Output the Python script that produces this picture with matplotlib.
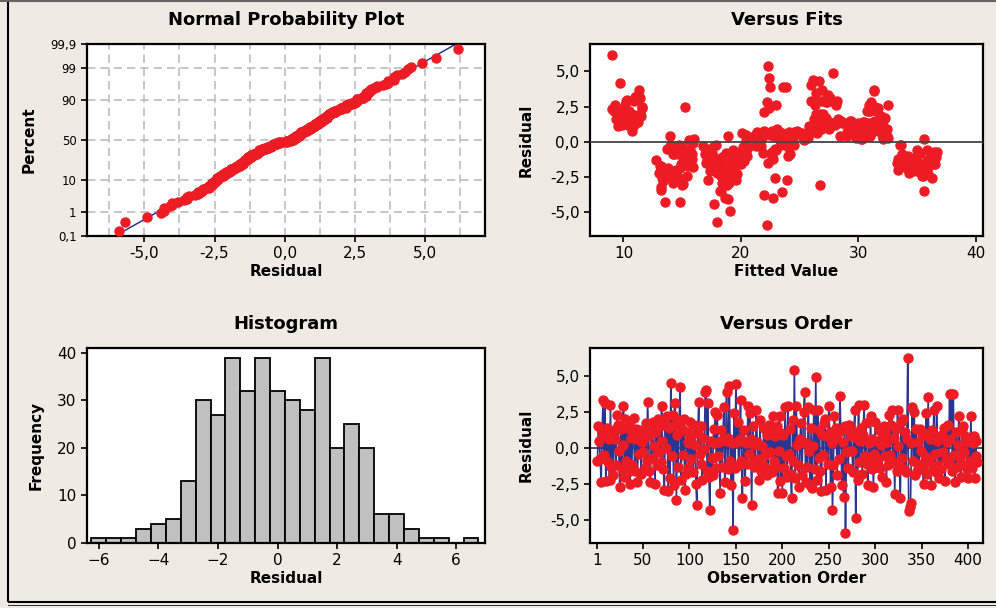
import numpy as np
import matplotlib
matplotlib.use("Agg")
import matplotlib.pyplot as plt
from matplotlib.patches import Rectangle
from statistics import NormalDist

# residuals in observation order
resid = [
    -0.9, 1.5, 0.5, -0.8, -2.4, 1.0, 3.3, -0.5, 3.1, -2.3,
    1.4, -1.0, 0.6, -2.2, 3.0, -1.3, 0.8, -1.9, 1.2, 0.6,
    -1.2, 2.3, 1.6, -0.2, -2.7, 1.3, -1.5, 0.2, 2.9, -2.0,
    2.0, -0.9, 1.4, -1.7, 1.8, -2.5, 0.7, -1.2, 1.1, 2.1,
    -1.6, 0.6, 1.3, -2.4, 0.9, -0.4, 1.2, -1.8, 0.4, -0.3,
    1.0, -1.4, 1.7, -0.9, 3.2, 0.8, -1.6, -2.4, 1.5, -0.7,
    1.8, 0.1, -2.5, 1.1, -1.2, 2.0, -0.3, 1.5, -1.0, 2.9,
    0.5, -1.5, -2.9, 1.7, 0.0, 2.2, -3.0, 1.4, -2.1, 4.5,
    -0.6, 2.3, -2.6, 3.1, 1.6, -3.6, 0.9, -1.3, 1.9, 4.2,
    -2.2, 1.3, -0.5, 2.0, -2.9, -1.8, 1.1, 0.4, -1.4, 0.3,
    1.8, -0.8, 0.9, -1.7, 1.6, 0.2, -2.5, -4.0, 1.0, 3.2,
    -0.4, 1.5, -1.1, -2.2, 0.7, -0.1, 3.9, 4.0, -1.6, 3.1,
    -2.0, -4.3, 0.5, -0.7, -1.9, 1.3, 0.3, 2.5, -1.4, 2.3,
    -0.6, 0.4, -3.1, 1.2, -1.3, 0.6, 2.8, -2.4, 0.5, 3.9,
    -1.5, 0.7, 4.3, -0.9, -2.6, 0.3, -5.7, 2.4, -1.4, 4.4,
    0.4, 1.8, -1.2, 0.6, 3.3, -0.9, -3.5, 0.5, 1.2, -2.3,
    0.3, -1.1, 2.9, -0.4, 2.4, 0.6, -4.0, 1.5, -1.3, 0.2,
    -1.0, 2.6, 0.4, -0.8, -2.2, 1.9, -1.6, 0.1, -1.2, 1.4,
    -0.5, 1.2, -1.9, 0.9, -1.5, 1.6, -0.3, 1.1, -1.7, 2.2,
    -0.9, 0.8, -1.3, 1.5, -3.1, -0.2, 2.2, -2.3, 1.0, -3.1,
    0.9, -1.4, 2.8, -0.6, -2.0, 2.9, -0.4, 1.3, -1.8, -3.5,
    1.9, -0.9, 5.4, -2.1, 2.9, 0.2, -1.2, -2.7, 0.6, 1.7,
    -1.9, 0.4, 2.5, 3.9, -2.4, 0.3, -1.3, 2.8, -0.2, -2.6,
    1.4, -2.8, 0.1, 2.6, -1.5, 4.9, -2.2, 2.6, -0.7, 1.2,
    -1.6, -3.0, 0.9, -0.5, 1.7, 2.0, -2.9, 0.8, -1.1, 2.9,
    1.1, -2.7, 0.3, -4.3, -1.2, 2.2, 0.6, 1.4, -1.9, 1.0,
    -0.8, 3.6, 1.2, -2.6, 0.4, -3.4, 1.5, -5.9, -0.3, 1.3,
    -1.4, 1.6, -0.2, 0.8, -0.2, -1.7, 1.1, 2.6, -4.9, 0.7,
    -2.2, 3.0, -1.0, 0.5, 1.4, -1.8, 0.9, 3.0, -0.6, 1.7,
    -1.1, -2.6, 0.3, -0.9, 2.2, -1.5, 0.6, -2.7, -0.4, 1.8,
    -1.3, 0.5, -0.8, 1.2, -1.4, 0.2, -2.0, 0.9, 1.5, -0.6,
    1.0, -2.4, 0.4, -1.2, 2.3, -0.5, 1.6, 2.6, -1.0, 0.7,
    -3.2, 1.3, -1.6, 2.6, 0.1, -1.3, -3.5, 1.8, -0.7, 2.0,
    -1.5, 1.1, -1.7, 0.6, 6.2, -4.4, -4.1, -3.8, 0.3, 2.8,
    -0.9, 2.5, -1.9, 1.3, -1.6, 0.4, -1.1, 1.3, -0.2, 0.9,
    -1.4, -2.5, 1.0, -0.6, 2.4, -1.8, 3.5, -0.9, 0.6, -2.6,
    1.2, -1.3, 2.6, -0.4, -1.7, 2.9, 0.5, -1.2, -2.1, 0.8,
    -1.5, 0.9, -0.3, 1.4, -2.3, -0.8, 0.4, 1.6, -1.1, 3.7,
    0.6, 3.7, -1.6, 3.7, -0.5, -2.4, 1.1, -1.3, 0.2, 2.2,
    -0.7, -2.0, 1.3, -1.2, 1.5, -0.3, 0.8, 0.4, -1.5, -2.1,
    0.7, -0.9, 2.2, -1.4, 0.3, 0.8, -2.1, 0.5, -0.6, -1.0,
]

# fitted values, same order
fitted = [
    19.4, 10.6, 30.8, 35.2, 14.3, 26.1, 11.2, 22.9, 27.3, 18.6,
    31.6, 15.1, 23.4, 34.3, 10.3, 18.1, 30.2, 13.8, 26.8, 20.1,
    36.1, 31.2, 9.4, 14.7, 19.6, 27.9, 22.3, 32.1, 10.9, 35.5,
    26.4, 17.3, 30.5, 13.2, 11.5, 18.9, 24.1, 34.8, 31.4, 22.0,
    19.1, 29.8, 10.1, 15.4, 26.0, 17.6, 30.9, 35.9, 23.7, 14.0,
    31.9, 20.3, 27.2, 33.7, 11.0, 22.6, 14.9, 18.3, 29.4, 36.4,
    9.8, 25.4, 13.5, 31.0, 19.9, 26.7, 21.5, 10.5, 35.0, 28.2,
    30.1, 17.0, 14.2, 32.3, 23.9, 9.2, 18.7, 27.5, 34.6, 22.4,
    15.7, 31.5, 19.3, 11.4, 26.2, 23.5, 29.6, 17.8, 10.8, 9.7,
    13.0, 30.6, 20.5, 27.0, 18.4, 34.0, 9.5, 22.8, 15.3, 32.5,
    26.9, 17.5, 31.8, 35.7, 10.0, 23.2, 19.0, 22.7, 29.2, 11.3,
    14.5, 28.5, 36.6, 18.0, 30.3, 15.9, 22.5, 26.0, 20.0, 27.6,
    33.4, 13.5, 21.2, 19.5, 14.8, 31.3, 25.7, 15.2, 17.9, 9.0,
    23.0, 30.7, 15.0, 10.4, 18.5, 26.5, 31.1, 35.4, 20.4, 23.6,
    36.2, 29.0, 26.6, 16.9, 13.3, 24.4, 18.0, 11.6, 19.2, 26.1,
    30.0, 10.7, 34.5, 22.1, 27.4, 14.6, 18.3, 32.0, 28.0, 19.7,
    21.8, 15.6, 10.2, 20.2, 31.7, 25.2, 18.6, 29.3, 33.9, 16.0,
    24.0, 26.3, 31.0, 17.2, 14.1, 9.9, 35.3, 23.3, 19.8, 30.4,
    13.7, 27.1, 18.2, 32.4, 36.0, 11.1, 21.3, 29.7, 15.5, 30.9,
    19.4, 24.8, 12.8, 31.4, 18.8, 33.6, 10.5, 14.3, 26.4, 26.7,
    29.5, 17.7, 22.2, 35.8, 13.9, 26.0, 20.6, 31.6, 19.2, 35.6,
    10.9, 24.2, 22.3, 17.4, 26.9, 30.3, 15.8, 18.9, 22.9, 32.2,
    34.9, 28.4, 11.6, 23.8, 14.4, 21.0, 17.1, 27.3, 24.5, 19.5,
    31.2, 13.4, 20.4, 9.3, 33.3, 27.8, 18.1, 28.1, 22.6, 30.1,
    36.5, 15.1, 26.8, 14.7, 31.9, 10.0, 19.0, 22.0, 17.6, 26.2,
    29.9, 23.9, 21.6, 14.8, 20.1, 31.5, 25.6, 11.2, 34.1, 30.6,
    15.3, 31.3, 26.5, 22.9, 18.9, 13.2, 10.3, 22.2, 16.8, 28.6,
    34.4, 9.6, 23.4, 31.8, 17.9, 35.1, 27.0, 32.5, 19.1, 21.4,
    13.6, 27.7, 19.6, 30.5, 10.8, 15.9, 23.1, 11.0, 35.0, 26.6,
    18.4, 36.3, 29.8, 14.2, 30.7, 20.0, 24.6, 17.2, 15.0, 26.9,
    33.8, 31.0, 21.9, 9.9, 18.6, 30.2, 14.5, 27.5, 32.1, 19.3,
    29.1, 35.5, 14.0, 22.7, 31.2, 17.0, 28.3, 10.1, 20.5, 26.0,
    13.2, 30.8, 19.8, 23.0, 15.6, 34.7, 18.2, 31.9, 36.7, 11.4,
    17.5, 25.8, 35.2, 29.3, 9.0, 17.7, 18.9, 22.0, 21.2, 27.2,
    14.9, 31.4, 19.4, 10.6, 36.1, 23.6, 15.4, 30.0, 33.5, 26.3,
    18.0, 14.6, 31.7, 20.2, 22.4, 34.6, 26.4, 15.8, 29.6, 19.0,
    10.9, 35.8, 30.9, 24.0, 13.1, 27.6, 22.8, 17.3, 34.3, 31.3,
    19.7, 26.8, 14.1, 29.4, 35.9, 18.7, 32.4, 10.4, 22.6, 11.3,
    23.5, 31.3, 36.4, 26.9, 20.3, 13.8, 30.5, 18.2, 35.6, 9.6,
    15.2, 19.1, 27.9, 33.4, 31.6, 21.7, 10.7, 29.0, 17.8, 35.0,
    24.5, 14.3, 31.0, 19.9, 25.3, 30.2, 18.5, 22.5, 15.5, 34.2,
]

# histogram bars
hist_centers = [-6.0, -5.5, -5.0, -4.5, -4.0, -3.5, -3.0, -2.5, -2.0, -1.5, -1.0, -0.5, 0.0,
                0.5, 1.0, 1.5, 2.0, 2.5, 3.0, 3.5, 4.0, 4.5, 5.0, 5.5, 6.0, 6.5]
hist_counts = [1, 1, 1, 3, 4, 5, 13, 30, 27, 39, 32, 39, 32,
               30, 28, 39, 20, 25, 20, 6, 6, 3, 1, 1, 0, 1]

pct_ticks = [0.1, 1, 10, 50, 90, 99, 99.9]
pct_labels = ['0,1', '1', '10', '50', '90', '99', '99,9']
resid_ticks = [-5.0, -2.5, 0.0, 2.5, 5.0]
resid_labels = ['-5,0', '-2,5', '0,0', '2,5', '5,0']
fit_ticks = [10, 20, 30, 40]
hist_xticks = [-6, -4, -2, 0, 2, 4, 6]
hist_yticks = [0, 10, 20, 30, 40]
order_ticks = [1, 50, 100, 150, 200, 250, 300, 350, 400]

RED = '#ED1C24'
NAVY = '#2B3590'
BG = '#EFEBE4'

plt.rcParams['font.family'] = ['DejaVu Sans']
TICK = 11
LAB = 11
TTL = 13

fig = plt.figure(figsize=(9.96, 6.08), dpi=100, facecolor=BG)
W, H = 996.0, 608.0

def box(l, t, r, b):
    return [l / W, 1 - b / H, (r - l) / W, (b - t) / H]

ax1 = fig.add_axes(box(87, 44, 485, 236))
ax2 = fig.add_axes(box(590, 44, 983, 236))
ax3 = fig.add_axes(box(87, 348, 485, 543))
ax4 = fig.add_axes(box(590, 348, 983, 543))

for ax in (ax1, ax2, ax3, ax4):
    ax.set_facecolor('white')
    for s in ax.spines.values():
        s.set_linewidth(1.6)
    ax.tick_params(labelsize=TICK, length=4, width=1.2, direction='out')

# --- normal probability plot
nd = NormalDist()
n = len(resid)
srt = np.sort(resid)
pp = (np.arange(1, n + 1) - 0.3) / (n + 0.4)
zz = [nd.inv_cdf(v) for v in pp]
mu = np.mean(resid)
sd = np.std(resid, ddof=1)
zl = np.array([-3.5, 3.5])
ax1.plot(mu + sd * zl, zl, color=NAVY, lw=1.1, zorder=2)
ax1.plot(srt, zz, 'o', color=RED, ms=6.5, mec=RED, zorder=3, clip_on=False)
ax1.set_xlim(-7.05, 7.15)
ax1.set_ylim(nd.inv_cdf(0.001), nd.inv_cdf(0.999))
ax1.set_yticks([nd.inv_cdf(p / 100) for p in pct_ticks], pct_labels)
ax1.tick_params(axis='y', labelsize=8.5)
ax1.set_xticks(resid_ticks, resid_labels)
ax1.set_xticks(np.arange(-6.25, 7, 1.25), minor=True)
ax1.tick_params(axis='x', which='minor', length=0)
ax1.grid(True, which='both', axis='x', color='#BDBDBD', ls=(0, (5, 3)), lw=1.2)
ax1.grid(True, which='major', axis='y', color='#BDBDBD', ls=(0, (5, 3)), lw=1.2)
ax1.set_axisbelow(True)
ax1.set_title('Normal Probability Plot', fontsize=TTL, fontweight='bold', pad=14)
ax1.set_xlabel('Residual', fontsize=LAB, fontweight='bold', labelpad=2)
ax1.set_ylabel('Percent', fontsize=LAB, fontweight='bold', labelpad=10)

# --- versus fits
ax2.axhline(0, color='#444444', lw=1.3, zorder=4)
ax2.plot(fitted, resid, 'o', color=RED, ms=6.5, mec=RED, zorder=3)
ax2.set_xlim(7.15, 40.6)
ax2.set_ylim(-6.7, 6.95)
ax2.set_xticks(fit_ticks)
ax2.set_yticks(resid_ticks, resid_labels)
ax2.set_title('Versus Fits', fontsize=TTL, fontweight='bold', pad=14)
ax2.set_xlabel('Fitted Value', fontsize=LAB, fontweight='bold', labelpad=2)
ax2.set_ylabel('Residual', fontsize=LAB, fontweight='bold', labelpad=12)

# --- histogram
ax3.bar(hist_centers, hist_counts, width=0.5, color='#C0C0C0', edgecolor='black', lw=1.3)
ax3.set_xlim(-6.4, 6.97)
ax3.set_ylim(0, 41)
ax3.set_xticks(hist_xticks)
ax3.set_yticks(hist_yticks)
ax3.set_title('Histogram', fontsize=TTL, fontweight='bold', pad=14)
ax3.set_xlabel('Residual', fontsize=LAB, fontweight='bold', labelpad=2)
ax3.set_ylabel('Frequency', fontsize=LAB, fontweight='bold', labelpad=10)

# --- versus order
obs = np.arange(1, n + 1)
ax4.axhline(0, color='#444444', lw=1.3, zorder=1)
ax4.plot(obs, resid, '-', color=NAVY, lw=1.2, zorder=2)
ax4.plot(obs, resid, 'o', color=RED, ms=6.5, mec=RED, zorder=3)
ax4.set_xlim(-7, 416)
ax4.set_ylim(-6.6, 6.92)
ax4.set_xticks(order_ticks)
ax4.set_yticks(resid_ticks, resid_labels)
ax4.set_title('Versus Order', fontsize=TTL, fontweight='bold', pad=14)
ax4.set_xlabel('Observation Order', fontsize=LAB, fontweight='bold', labelpad=2)
ax4.set_ylabel('Residual', fontsize=LAB, fontweight='bold', labelpad=12)

# outer frame
fig.add_artist(Rectangle((7.5 / W, 1 - 602 / H), 1.2, 601 / H, transform=fig.transFigure,
                         fill=False, ec='black', lw=1.5))
fig.add_artist(Rectangle((0, 1 - 1.5 / H), 1, 1.5 / H, transform=fig.transFigure,
                         color='#666666', lw=0))
fig.add_artist(Rectangle((7.5 / W, 1 - 606 / H), 1.2, 1.5 / H, transform=fig.transFigure,
                         color='#333333', lw=0))

fig.savefig('out.png', dpi=100, facecolor=BG)
